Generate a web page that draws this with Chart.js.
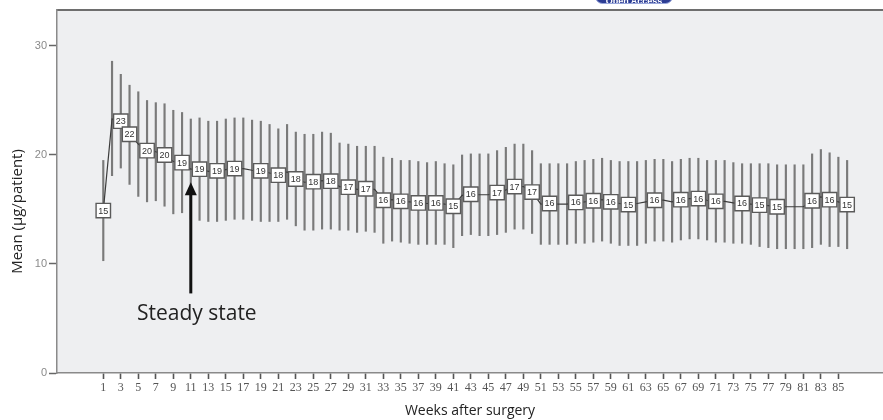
<!DOCTYPE html>
<html>
<head>
<meta charset="utf-8">
<script src="https://cdn.jsdelivr.net/npm/chart.js@4.4.1/dist/chart.umd.min.js"></script>
<style>
  html, body { margin: 0; padding: 0; background: #fff; overflow: hidden; }
  #wrap { position: relative; width: 883px; height: 420px; overflow: hidden; }
  #chart { display: block; }
  #badge {
    position: absolute; left: 595px; top: -11px; width: 78px; height: 15px;
    border-radius: 8px; background: #2c3d94; border: 1px solid #9aa8dc; box-sizing: border-box;
    color: #fff; font: bold 9px "Liberation Sans", sans-serif; text-align: center; line-height: 22px; overflow: hidden;
  }
</style>
</head>
<body>
<div id="wrap">
  <canvas id="chart" width="883" height="420"></canvas>
  <div id="badge">Open Access</div>
</div>
<script>
// weeks after surgery
const weeks = [1, 2, 3, 4, 5, 6, 7, 8, 9, 10, 11, 12, 13, 14, 15, 16, 17, 18, 19, 20,
  21, 22, 23, 24, 25, 26, 27, 28, 29, 30, 31, 32, 33, 34, 35, 36, 37, 38, 39, 40,
  41, 42, 43, 44, 45, 46, 47, 48, 49, 50, 51, 52, 53, 54, 55, 56, 57, 58, 59, 60,
  61, 62, 63, 64, 65, 66, 67, 68, 69, 70, 71, 72, 73, 74, 75, 76, 77, 78, 79, 80,
  81, 82, 83, 84, 85, 86];

// mean (ug/patient) per week
const meanValues = [14.9, 23.3, 23.1, 21.9, 21.0, 20.4, 20.3, 20.0, 19.4, 19.3,
  18.7, 18.7, 18.5, 18.55, 18.65, 18.75, 18.75, 18.6, 18.55, 18.35,
  18.15, 18.45, 17.8, 17.5, 17.55, 17.65, 17.6, 17.1, 17.05, 16.85,
  16.9, 16.85, 15.85, 15.9, 15.75, 15.7, 15.6, 15.55, 15.6, 15.5,
  15.3, 16.3, 16.4, 16.35, 16.35, 16.55, 16.8, 17.1, 17.1, 16.6,
  15.5, 15.55, 15.5, 15.5, 15.65, 15.7, 15.8, 15.9, 15.7, 15.55,
  15.45, 15.55, 15.7, 15.85, 15.85, 15.7, 15.9, 16.0, 16.0, 15.85,
  15.75, 15.75, 15.6, 15.55, 15.5, 15.4, 15.35, 15.25, 15.25, 15.25,
  15.25, 15.8, 16.15, 15.9, 15.7, 15.45];

// error bar ends
const lowerCI = [10.3, 18.1, 18.8, 17.3, 16.2, 15.7, 15.8, 15.3, 14.6, 14.7,
  14.1, 14.0, 13.9, 13.9, 14.0, 14.1, 14.1, 14.0, 13.9, 13.9,
  13.9, 14.1, 13.5, 13.1, 13.1, 13.2, 13.2, 13.1, 13.1, 12.9,
  13.0, 12.9, 11.9, 12.1, 12.0, 11.9, 11.8, 11.8, 11.8, 11.8,
  11.5, 12.6, 12.7, 12.6, 12.6, 12.7, 12.9, 13.2, 13.2, 12.8,
  11.8, 11.8, 11.8, 11.8, 11.9, 11.9, 12.0, 12.1, 11.9, 11.7,
  11.7, 11.7, 11.9, 12.1, 12.1, 12.0, 12.2, 12.3, 12.3, 12.2,
  12.0, 12.0, 11.9, 11.9, 11.8, 11.6, 11.5, 11.4, 11.4, 11.4,
  11.4, 11.5, 11.8, 11.6, 11.6, 11.4];
const upperCI = [19.5, 28.6, 27.4, 26.4, 25.8, 25.0, 24.8, 24.7, 24.1, 23.9,
  23.3, 23.4, 23.1, 23.1, 23.3, 23.4, 23.4, 23.2, 23.1, 22.8,
  22.4, 22.8, 22.1, 21.9, 21.9, 22.1, 22.0, 21.1, 21.0, 20.8,
  20.8, 20.8, 19.8, 19.7, 19.5, 19.5, 19.4, 19.3, 19.4, 19.2,
  19.1, 20.0, 20.1, 20.1, 20.1, 20.4, 20.7, 21.0, 21.0, 20.4,
  19.2, 19.2, 19.2, 19.2, 19.4, 19.5, 19.6, 19.7, 19.5, 19.4,
  19.4, 19.4, 19.5, 19.6, 19.6, 19.4, 19.6, 19.7, 19.7, 19.5,
  19.5, 19.5, 19.3, 19.2, 19.2, 19.2, 19.2, 19.1, 19.1, 19.1,
  19.1, 20.1, 20.5, 20.2, 19.8, 19.5];

// weeks that carry a boxed mean label
const labelledWeeks = [1, 3, 4, 6, 8, 10, 12, 14, 16, 19, 21, 23, 25, 27, 29, 31, 33, 35, 37, 39,
  41, 43, 46, 48, 50, 52, 55, 57, 59, 61, 64, 67, 69, 71, 74, 76, 78, 82, 84, 86];

const xTickWeeks = [1, 3, 5, 7, 9, 11, 13, 15, 17, 19, 21, 23, 25, 27, 29, 31, 33, 35, 37, 39, 41,
  43, 45, 47, 49, 51, 53, 55, 57, 59, 61, 63, 65, 67, 69, 71, 73, 75, 77, 79, 81, 83, 85];
const yTickValues = [0, 10, 20, 30];

// arrow annotation
const arrowWeek = 11;
const arrowTop = 17.5;
const arrowBottom = 7.3;

const meanPoints = weeks.map((w, i) => ({ x: w, y: meanValues[i] }));
const ciBars = weeks.map((w, i) => ({ x: w, y: [lowerCI[i], upperCI[i]] }));

const plotFrame = {
  id: 'plotFrame',
  beforeDraw(chart) {
    const { ctx, chartArea: a } = chart;
    ctx.save();
    ctx.fillStyle = '#eeeff1';
    ctx.fillRect(a.left, a.top, a.right - a.left, a.bottom - a.top);
    ctx.strokeStyle = '#6e6e6e';
    ctx.lineWidth = 2;
    ctx.beginPath();
    ctx.moveTo(a.left, a.top);
    ctx.lineTo(a.right, a.top);
    ctx.stroke();
    ctx.restore();
  }
};

const annotations = {
  id: 'annotations',
  afterDatasetsDraw(chart) {
    const { ctx } = chart;
    const xs = chart.scales.x, ys = chart.scales.y;
    ctx.save();

    // mean labels in boxes
    ctx.font = '9px "Liberation Sans", sans-serif';
    ctx.fillStyle = '#333';
    ctx.textAlign = 'center';
    ctx.textBaseline = 'middle';
    labelledWeeks.forEach(w => {
      const i = weeks.indexOf(w);
      ctx.fillText(String(Math.round(meanValues[i])), xs.getPixelForValue(w), ys.getPixelForValue(meanValues[i]) + 0.5);
    });

    // steady state arrow
    const ax = xs.getPixelForValue(arrowWeek);
    const yTip = ys.getPixelForValue(arrowTop);
    const yBase = ys.getPixelForValue(arrowBottom);
    ctx.strokeStyle = '#111';
    ctx.fillStyle = '#111';
    ctx.lineWidth = 3;
    ctx.beginPath();
    ctx.moveTo(ax, yBase);
    ctx.lineTo(ax, yTip + 10);
    ctx.stroke();
    ctx.beginPath();
    ctx.moveTo(ax, yTip);
    ctx.lineTo(ax - 6, yTip + 13);
    ctx.lineTo(ax + 6, yTip + 13);
    ctx.closePath();
    ctx.fill();

    ctx.font = '21px "Open Sans", sans-serif';
    ctx.fillStyle = '#222';
    ctx.textAlign = 'center';
    ctx.textBaseline = 'alphabetic';
    ctx.fillText('Steady state', ax + 6, yBase + 27);

    // y axis title
    const a = chart.chartArea;
    ctx.translate(18, (a.top + a.bottom) / 2 + 20);
    ctx.rotate(-Math.PI / 2);
    ctx.font = '15px "Open Sans", sans-serif';
    ctx.textBaseline = 'middle';
    ctx.fillText('Mean (µg/patient)', 0, 0);
    ctx.restore();
  }
};

new Chart(document.getElementById('chart'), {
  type: 'bar',
  data: {
    datasets: [
      {
        type: 'line',
        data: meanPoints,
        order: 0,
        borderColor: '#3c3c3c',
        borderWidth: 1.2,
        tension: 0,
        pointStyle: 'rect',
        pointRadius: ctx => labelledWeeks.includes(weeks[ctx.dataIndex]) ? 10.2 : 0,
        pointBackgroundColor: '#ffffff',
        pointBorderColor: '#5a5a5a',
        pointBorderWidth: 1.4
      },
      {
        type: 'bar',
        data: ciBars,
        order: 1,
        backgroundColor: '#7a7a7a',
        barThickness: 1.5,
        borderWidth: 0
      }
    ]
  },
  options: {
    responsive: false,
    animation: false,
    events: [],
    devicePixelRatio: 1,
    layout: { autoPadding: false, padding: { top: 10, left: 0, right: 0, bottom: 0 } },
    plugins: { legend: { display: false }, tooltip: { enabled: false } },
    scales: {
      x: {
        type: 'linear',
        offset: false,
        min: -4.29,
        max: 90.1,
        afterBuildTicks: axis => { axis.ticks = xTickWeeks.map(v => ({ value: v })); },
        afterFit: axis => { axis.height = 47; axis.paddingLeft = 0; axis.paddingRight = 0; },
        grid: { offset: false, drawOnChartArea: false, drawTicks: true, tickLength: 6, tickWidth: 1.6, tickColor: '#555' },
        border: { display: true, color: '#8a8a8a', width: 1.5 },
        ticks: {
          autoSkip: false, maxRotation: 0, minRotation: 0, padding: 2, color: '#555',
          font: { family: '"Liberation Serif", serif', size: 12 }
        },
        title: {
          display: true, text: 'Weeks after surgery', color: '#222',
          font: { family: '"Open Sans", sans-serif', size: 14 },
          padding: { top: 0, bottom: 1 }
        }
      },
      y: {
        min: 0,
        max: 33.3,
        afterBuildTicks: axis => { axis.ticks = yTickValues.map(v => ({ value: v })); },
        afterFit: axis => { axis.width = 57; axis.paddingTop = 0; axis.paddingBottom = 0; },
        grid: { drawOnChartArea: false, drawTicks: true, tickLength: 8, tickWidth: 1.5, tickColor: '#666' },
        border: { display: true, color: '#8a8a8a', width: 1.5 },
        ticks: {
          padding: 2, color: '#8a8a8a',
          font: { family: '"Liberation Sans", sans-serif', size: 11 }
        }
      }
    }
  },
  plugins: [plotFrame, annotations]
});
</script>
</body>
</html>
